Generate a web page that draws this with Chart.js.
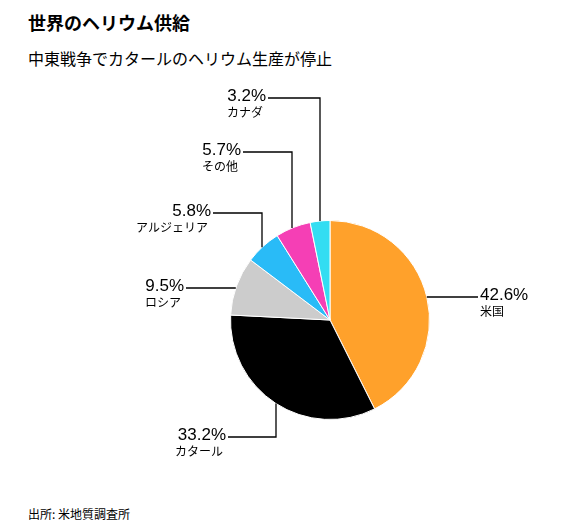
<!DOCTYPE html><html><head><meta charset="utf-8">
<script src="https://cdn.jsdelivr.net/npm/chart.js@4"></script>
<style>body{margin:0;background:#fff;font-family:"Noto Sans CJK JP","Liberation Sans",sans-serif}
#w{position:relative;width:587px;height:526px}
.t{position:absolute;left:28px;top:9px;font-size:18px;font-weight:bold;color:#000}
.s{position:absolute;left:28px;top:46px;font-size:16px;color:#000}
.f{position:absolute;left:28px;top:505px;font-size:12px;color:#000}
canvas{position:absolute;left:0;top:0}</style></head><body>
<div id="w"><div class="t">世界のヘリウム供給</div><div class="s">中東戦争でカタールのヘリウム生産が停止</div><div class="f">出所: 米地質調査所</div>
<canvas id="c" width="587" height="526"></canvas></div>
<script>
const categories=["米国","カタール","ロシア","アルジェリア","その他","カナダ"];
const values=[42.6,33.2,9.5,5.8,5.7,3.2];
const colors=["#ffa12b","#000000","#cccccc","#29bbf7","#f53fb5","#33ddf2"];
// leader layout: type v = vertical line at x, label at y; h = horizontal line at y
const leaders=[
 {t:"h",y:297,side:"r",tx:480},
 {t:"v",x:276,y:437,edge:"b",tx:226},
 {t:"h",y:288,side:"l",tx:184},
 {t:"v",x:262,y:213,edge:"t",tx:211},
 {t:"v",x:292,y:152,edge:"t",tx:241},
 {t:"v",x:320,y:98,edge:"t",tx:266}
];
const lbl={id:"lbl",afterDraw(ch){
 const c=ch.ctx,a=ch.getDatasetMeta(0).data[0],cx=a.x,cy=a.y,r=a.outerRadius;
 c.save();c.strokeStyle="#000";c.lineWidth=1.3;c.fillStyle="#000";
 leaders.forEach((L,i)=>{
  c.beginPath();
  if(L.t==="v"){const d=Math.sqrt(r*r-(L.x-cx)**2);const ey=L.edge==="t"?cy-d:cy+d;
   c.moveTo(L.tx+2,L.y);c.lineTo(L.x,L.y);c.lineTo(L.x,ey);}
  else{const d=Math.sqrt(r*r-(L.y-cy)**2);const ex=L.side==="l"?cx-d:cx+d;
   c.moveTo(L.side==="l"?L.tx+2:L.tx-2,L.y);c.lineTo(ex,L.y);}
  c.stroke();
  const right=!(L.t==="h"&&L.side==="r");
  c.textAlign=right?"right":"left";c.textBaseline="alphabetic";
  c.font='17px "Liberation Sans",sans-serif';
  c.fillText(values[i].toFixed(1)+"%",L.tx,L.y+3);
  c.font='12px "Noto Sans CJK JP",sans-serif';
  c.fillText(categories[i],right?L.tx-3:L.tx,L.y+19);
 });c.restore();}};
new Chart(document.getElementById("c"),{type:"pie",
 data:{labels:categories,datasets:[{data:values,backgroundColor:colors,borderColor:"#fff",borderWidth:1}]},
 options:{responsive:false,animation:false,layout:{padding:{left:230,right:157,top:220,bottom:106}},
 plugins:{legend:{display:false},tooltip:{enabled:false}}},plugins:[lbl]});
</script></body></html>
